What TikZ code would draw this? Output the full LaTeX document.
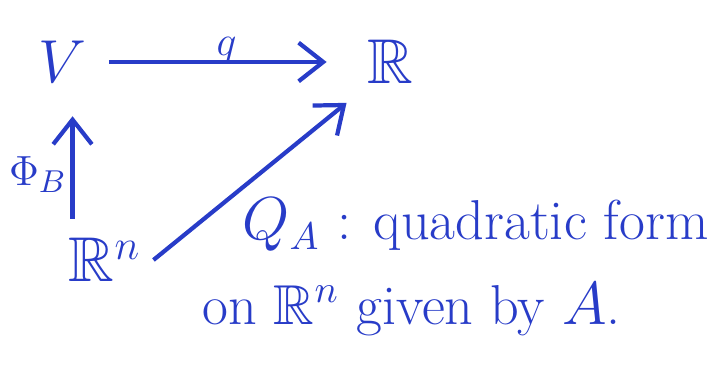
\documentclass[tikz,border=0pt]{standalone}
\usepackage{amsmath, amssymb}
\usetikzlibrary{arrows.meta,positioning}
\definecolor{ink}{RGB}{40,60,200}

\begin{document}
\begin{tikzpicture}[every node/.style={text=ink, font=\fontsize{18}{22}\selectfont},
  map/.style={draw=ink, line width=1.2pt, -{Straight Barb[length=7pt,width=11pt]}},
  tag/.style={font=\fontsize{13}{16}\selectfont, inner sep=1pt},
  note/.style={font=\fontsize{16}{20}\selectfont, anchor=base west}]
\useasboundingbox (0,0) rectangle (7.19,3.70);
\node (V) at (0.62,3.08) {$V$};
\node (R) at (3.90,3.08) {$\mathbb{R}$};
\node (Rn) at (1.05,1.10) {$\mathbb{R}^n$};
\draw[map, shorten <=3pt, shorten >=8pt] (V) -- (R) node[tag,midway,above,yshift=-2pt] {$q$};
\draw[map, shorten <=2pt, shorten >=6pt] ([xshift=3pt]V.south |- Rn.north) -- ([xshift=3pt]V.south) node[tag,midway,left,yshift=-4pt] {$\Phi_B$};
\draw[map, shorten <=0pt, shorten >=3pt] (Rn.east) -- (R.south west);
\node[note] (QA) at (2.30,1.30) {$Q_A$ : quadratic form};
\node[note] (given) at (1.90,0.45) {on $\mathbb{R}^n$ given by $A$.};
\end{tikzpicture}
\end{document}
